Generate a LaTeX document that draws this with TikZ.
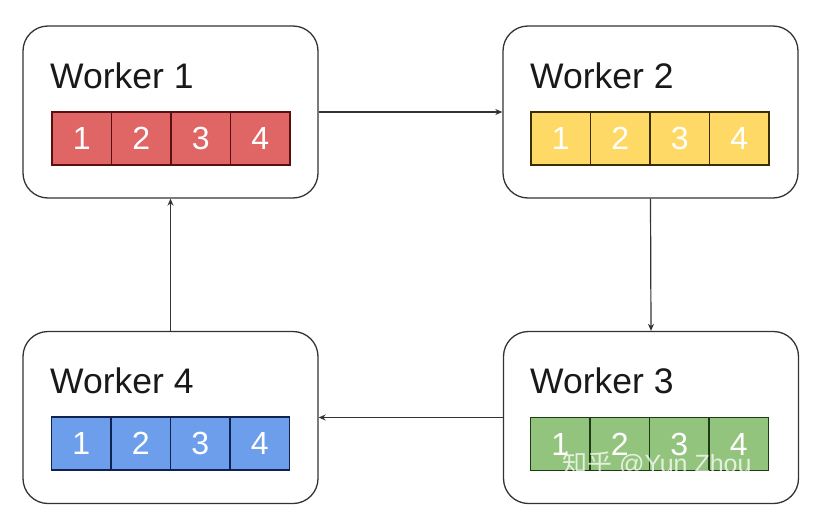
\documentclass[tikz,border=0pt]{standalone}
\usepackage{fontspec}
\setmainfont{Liberation Sans}
\newfontfamily\cjkfont{Noto Sans CJK SC}
\usetikzlibrary{arrows.meta}
\definecolor{cred}{HTML}{E06666}
\definecolor{cyellow}{HTML}{FFD966}
\definecolor{cgreen}{HTML}{93C47D}
\definecolor{cblue}{HTML}{6D9EEB}
\definecolor{dred}{HTML}{5A1010}
\definecolor{dyellow}{HTML}{3A2E00}
\definecolor{dgreen}{HTML}{1E3A14}
\definecolor{dblue}{HTML}{0E2350}
\definecolor{edge}{HTML}{333333}
\begin{document}
\begin{tikzpicture}[x=1pt,y=-1pt,
  worker/.style={draw=edge, line width=1.3pt, rounded corners=25pt, minimum width=295pt, minimum height=172pt, fill=white},
  title/.style={anchor=base west, inner sep=0pt, font=\fontsize{35.5}{40}\selectfont, text=black!90},
  cell/.style={line width=1.2pt, minimum width=59.5pt, minimum height=53pt, inner sep=0pt, text=white, font=\fontsize{32}{36}\selectfont},
  conn/.style={draw=edge, line width=1.2pt, -{Stealth[length=7pt,width=6pt]}}]
\useasboundingbox (0,0) rectangle (819,525);
\fill[white] (0,0) rectangle (819,525);
\node[worker] (w1) at (170.5,112) {};
\node[worker] (w2) at (650.5,112) {};
\node[worker] (w3) at (651,417.5) {};
\node[worker] (w4) at (170.5,417.5) {};
\node[title] (t1) at (50,88) {Worker 1};
\node[title] (t2) at (530,88) {Worker 2};
\node[title] (t3) at (530,393) {Worker 3};
\node[title] (t4) at (50,393) {Worker 4};
% cells
\foreach \i/\dx in {1/0,2/59.5,3/119,4/178.5}{
  \node[cell, fill=cred, draw=dred] (r\i) at (81.75+\dx,138.5) {\i};
  \node[cell, fill=cyellow, draw=dyellow] (y\i) at (560.75+\dx,138.5) {\i};
  \node[cell, fill=cgreen, draw=dgreen] (g\i) at (560.25+\dx,444) {\i};
  \node[cell, fill=cblue, draw=dblue] (b\i) at (81.25+\dx,443.5) {\i};
}
\draw[conn] (w1.east) -- (w2.west);
\draw[conn] (w2.south) -- (w3.north);
\draw[conn] (w3.west) -- (w4.east);
\draw[conn] (w4.north) -- (w1.south);
\node[anchor=base west, inner sep=0pt, text=white, opacity=0.75, font=\fontsize{25}{30}\selectfont] (wm) at (562,472) {{\cjkfont 知乎} @Yun Zhou};
\end{tikzpicture}
\end{document}
